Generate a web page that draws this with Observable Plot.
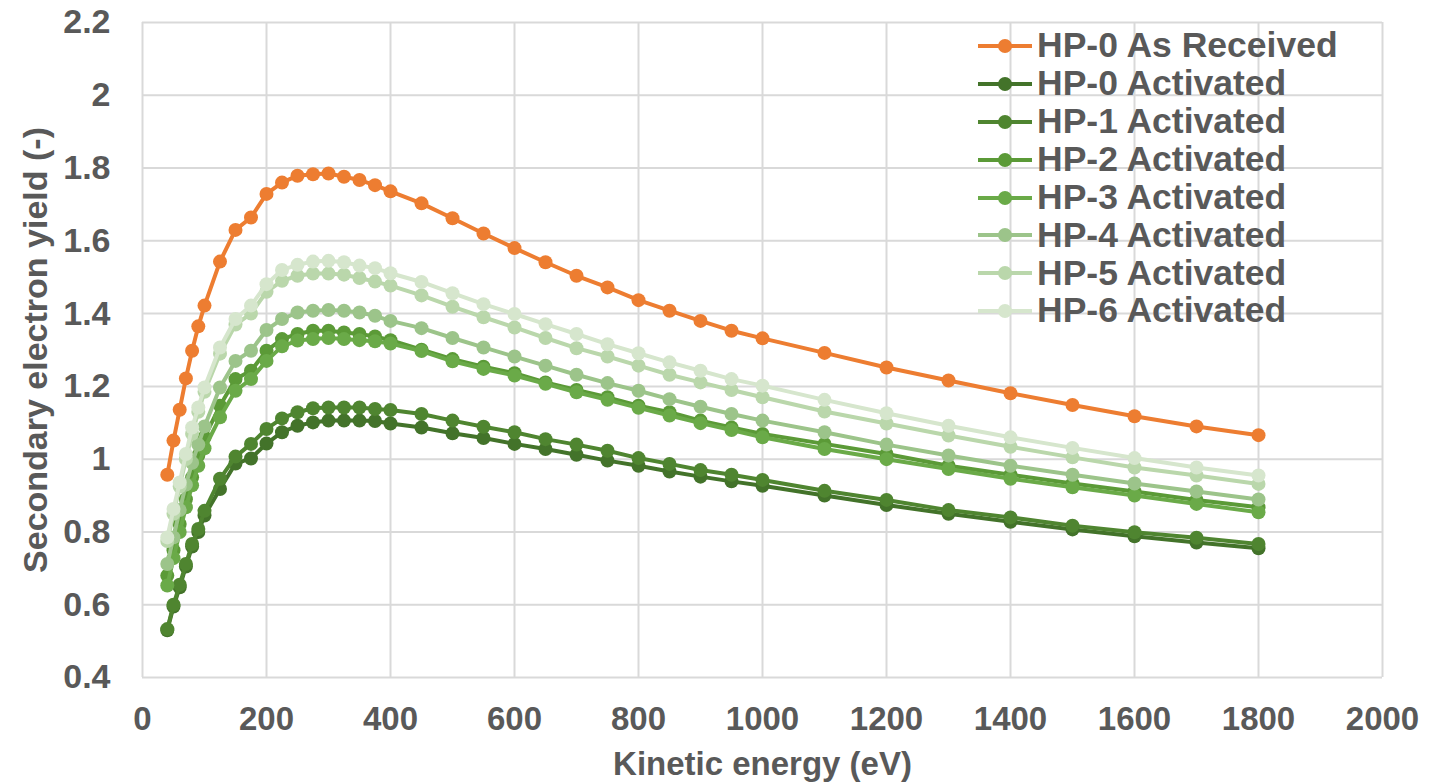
<!DOCTYPE html>
<html>
<head>
<meta charset="utf-8">
<script src="https://cdn.jsdelivr.net/npm/d3@7"></script>
<script src="https://cdn.jsdelivr.net/npm/@observablehq/plot@0.6"></script>
<style>
  html, body { margin: 0; padding: 0; background: #fff; }
  #wrap { position: relative; width: 1433px; height: 784px; font-family: "Liberation Sans", Arial, sans-serif; }
  #legend { position: absolute; left: 978px; top: 27px; }
  .row { display: flex; align-items: center; height: 37.9px; }
  .row span { font-size: 35.5px; font-weight: bold; color: #595959; margin-left: 5px; line-height: 1; white-space: nowrap; }
</style>
</head>
<body>
<div id="wrap"><div id="chart"></div><div id="legend"></div></div>
<script>
const energies = [40,50,60,70,80,90,100,125,150,175,200,225,250,275,300,325,350,375,400,450,500,550,600,650,700,750,800,850,900,950,1000,1100,1200,1300,1400,1500,1600,1700,1800];

const seriesNames = ["HP-0 As Received","HP-0 Activated","HP-1 Activated","HP-2 Activated","HP-3 Activated","HP-4 Activated","HP-5 Activated","HP-6 Activated"];
const seriesColors = ["#ED7D31","#43732a","#4f8530","#5b9a37","#6aaa48","#9cc48a","#bad7ab","#d6e6cd"];

const hp0Received = [0.957,1.051,1.136,1.222,1.298,1.365,1.422,1.543,1.630,1.664,1.729,1.760,1.779,1.783,1.785,1.776,1.767,1.753,1.736,1.703,1.662,1.620,1.580,1.541,1.504,1.472,1.437,1.408,1.380,1.353,1.332,1.292,1.252,1.216,1.181,1.149,1.118,1.090,1.066];
const hp0Activated = [0.530,0.595,0.648,0.705,0.760,0.800,0.845,0.918,0.988,1.002,1.043,1.074,1.092,1.101,1.106,1.106,1.106,1.105,1.098,1.087,1.071,1.058,1.042,1.028,1.012,0.996,0.982,0.966,0.952,0.939,0.927,0.900,0.874,0.850,0.828,0.807,0.788,0.771,0.755];
const hp1Activated = [0.533,0.600,0.655,0.712,0.767,0.808,0.858,0.946,1.007,1.042,1.083,1.112,1.129,1.140,1.142,1.142,1.142,1.138,1.135,1.124,1.106,1.089,1.074,1.055,1.040,1.023,1.003,0.987,0.970,0.957,0.943,0.913,0.888,0.860,0.840,0.817,0.799,0.784,0.767];
const hp2Activated = [0.680,0.750,0.822,0.890,0.950,1.010,1.060,1.147,1.220,1.243,1.298,1.330,1.344,1.353,1.353,1.348,1.344,1.337,1.327,1.301,1.275,1.254,1.236,1.211,1.190,1.170,1.147,1.129,1.106,1.087,1.069,1.042,1.014,0.982,0.957,0.933,0.911,0.888,0.868];
const hp3Activated = [0.653,0.728,0.800,0.868,0.928,0.982,1.030,1.115,1.188,1.220,1.270,1.310,1.326,1.330,1.333,1.330,1.327,1.324,1.318,1.297,1.269,1.248,1.230,1.207,1.184,1.163,1.141,1.120,1.099,1.080,1.060,1.028,1.000,0.973,0.946,0.923,0.900,0.877,0.854];
const hp4Activated = [0.712,0.785,0.860,0.930,0.990,1.040,1.090,1.197,1.270,1.298,1.355,1.385,1.403,1.408,1.410,1.408,1.403,1.394,1.380,1.360,1.333,1.307,1.282,1.257,1.232,1.209,1.188,1.165,1.144,1.124,1.106,1.074,1.040,1.010,0.982,0.957,0.933,0.911,0.889];
const hp5Activated = [0.775,0.850,0.925,1.000,1.070,1.130,1.185,1.290,1.370,1.400,1.460,1.490,1.504,1.510,1.510,1.507,1.498,1.488,1.477,1.450,1.419,1.390,1.362,1.333,1.305,1.282,1.257,1.232,1.211,1.190,1.170,1.131,1.098,1.065,1.034,1.005,0.977,0.955,0.932];
const hp6Activated = [0.785,0.863,0.936,1.014,1.087,1.142,1.197,1.307,1.385,1.422,1.481,1.520,1.534,1.543,1.545,1.541,1.532,1.525,1.511,1.487,1.456,1.426,1.399,1.371,1.344,1.316,1.291,1.266,1.243,1.220,1.202,1.163,1.126,1.092,1.060,1.031,1.003,0.977,0.955];

const xTicks = [0,200,400,600,800,1000,1200,1400,1600,1800,2000];
const xTickLabels = ["0","200","400","600","800","1000","1200","1400","1600","1800","2000"];
const yTicks = [0.4,0.6,0.8,1,1.2,1.4,1.6,1.8,2,2.2];
const yTickLabels = ["0.4","0.6","0.8","1","1.2","1.4","1.6","1.8","2","2.2"];

const allValues = [hp0Received,hp0Activated,hp1Activated,hp2Activated,hp3Activated,hp4Activated,hp5Activated,hp6Activated];
const series = seriesNames.map((name, i) => ({
  name, color: seriesColors[i],
  rows: energies.map((e, j) => ({energy: e, value: allValues[i][j], series: name}))
}));

const textColor = "#595959";
const gridColor = "#d9d9d9";

const marks = [
  Plot.gridX(xTicks, {stroke: gridColor, strokeOpacity: 1, strokeWidth: 2}),
  Plot.gridY(yTicks, {stroke: gridColor, strokeOpacity: 1, strokeWidth: 2}),
  Plot.axisX(xTicks, {tickSize: 0, tickPadding: 29, fontSize: 33, fontWeight: "bold", fill: textColor,
    tickFormat: (d) => xTickLabels[xTicks.indexOf(d)],
    label: "Kinetic energy (eV)", labelAnchor: "center", labelArrow: "none", labelOffset: 97}),
  Plot.axisY(yTicks, {tickSize: 0, tickPadding: 32, fontSize: 34, fontWeight: "bold", fill: textColor,
    tickFormat: (d) => yTickLabels[yTicks.indexOf(d)],
    label: "Secondary electron yield (-)", labelAnchor: "center", labelArrow: "none", labelOffset: 120})
];
for (const s of series) {
  marks.push(Plot.line(s.rows, {x: "energy", y: "value", stroke: s.color, strokeWidth: 4}));
  marks.push(Plot.dot(s.rows, {x: "energy", y: "value", r: 7, fill: s.color, stroke: "none"}));
}

const chart = Plot.plot({
  width: 1433,
  height: 784,
  marginLeft: 142,
  marginRight: 51,
  marginTop: 22,
  marginBottom: 107,
  style: {fontFamily: "'Liberation Sans', Arial, sans-serif", fontWeight: "bold", color: textColor, background: "#fff", fontSize: "35px"},
  x: {domain: [0, 2000]},
  y: {domain: [0.4, 2.2]},
  marks
});
document.getElementById("chart").appendChild(chart);

const legend = document.getElementById("legend");
for (const s of series) {
  const row = document.createElement("div");
  row.className = "row";
  row.innerHTML = `<svg width="54" height="20" viewBox="0 0 54 20"><line x1="0" y1="10" x2="54" y2="10" stroke="${s.color}" stroke-width="4"/><circle cx="27" cy="10" r="7" fill="${s.color}"/></svg><span>${s.name}</span>`;
  legend.appendChild(row);
}
</script>
</body>
</html>
